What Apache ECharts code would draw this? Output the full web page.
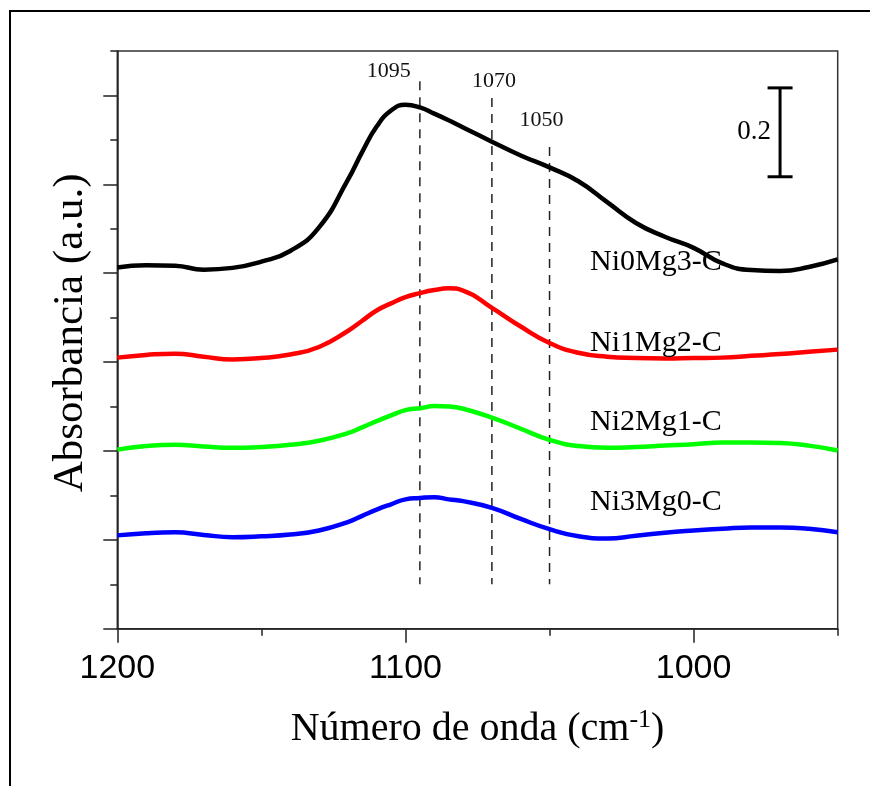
<!DOCTYPE html>
<html>
<head>
<meta charset="utf-8">
<script src="https://cdn.jsdelivr.net/npm/echarts@6/dist/echarts.min.js"></script>
<style>
  html, body { margin: 0; padding: 0; background: #ffffff; }
  #chart { width: 870px; height: 786px; }
</style>
</head>
<body>
<div id="chart"></div>
<script>
// FTIR spectra (absorbance, offset traces) of the calcined Ni/Mg samples
const wavenumbers = [1200, 1190, 1180, 1170, 1160, 1150, 1140, 1130, 1120, 1115, 1110, 1105, 1100, 1095, 1090,
                     1085, 1080, 1070, 1060, 1050, 1040, 1030, 1020, 1010, 1000, 990, 980, 970, 960, 950];

const ni0mg3 = [0.813, 0.818, 0.817, 0.808, 0.812, 0.826, 0.850, 0.903, 1.010, 1.073, 1.130, 1.166, 1.179, 1.173, 1.159,
                1.144, 1.128, 1.096, 1.065, 1.038, 1.007, 0.960, 0.913, 0.882, 0.857, 0.822, 0.807, 0.805, 0.814, 0.831];
const ni1mg2 = [0.610, 0.616, 0.619, 0.612, 0.606, 0.609, 0.617, 0.634, 0.670, 0.693, 0.716, 0.732, 0.746, 0.755, 0.762,
                0.766, 0.761, 0.722, 0.680, 0.643, 0.621, 0.612, 0.609, 0.608, 0.609, 0.610, 0.614, 0.618, 0.623, 0.628];
const ni2mg1 = [0.403, 0.411, 0.414, 0.410, 0.407, 0.409, 0.414, 0.423, 0.440, 0.453, 0.467, 0.480, 0.492, 0.496, 0.501,
                0.500, 0.495, 0.475, 0.450, 0.425, 0.411, 0.407, 0.409, 0.412, 0.415, 0.419, 0.419, 0.418, 0.412, 0.401];
const ni3mg0 = [0.210, 0.215, 0.217, 0.211, 0.206, 0.208, 0.212, 0.221, 0.240, 0.254, 0.268, 0.280, 0.291, 0.294, 0.296,
                0.291, 0.287, 0.272, 0.247, 0.224, 0.208, 0.203, 0.209, 0.216, 0.221, 0.225, 0.228, 0.228, 0.225, 0.217];

const seriesNames = ['Ni0Mg3-C', 'Ni1Mg2-C', 'Ni2Mg1-C', 'Ni3Mg0-C'];
const seriesValues = [ni0mg3, ni1mg2, ni2mg1, ni3mg0];
const seriesColors = ['#000000', '#ff0000', '#00ff00', '#0000ff'];

// Reference band positions (cm-1) and the height of each dashed guide
const peakPositions = [1095, 1070, 1050];
const peakLineTops = [1.232, 1.194, 1.084];
const peakLineBottom = 0.1;

// Absorbance scale bar: position and length
const scaleBarX = 970;
const scaleBarBase = 1.017;
const scaleBarLength = 0.2;

// Axis ticks
const xMajorTicks = [1000, 1100, 1200];
const yMajorTicks = [0, 0.2, 0.4, 0.6, 0.8, 1.0, 1.2];

// ---- styling ----
const SERIF = '"Liberation Serif", "Times New Roman", serif';
const SANS = '"Liberation Sans", Arial, sans-serif';
const AXIS_COLOR = '#222222';
const peakLabelOffsets = [[-31, -10], [2, -17], [-8, -27]];
const seriesLabelPos = [[590, 262], [590, 343], [590, 422], [590, 502]];

const chart = echarts.init(document.getElementById('chart'), null, { renderer: 'canvas' });

const lineSeries = seriesNames.map((name, k) => ({
  name: name,
  type: 'line',
  xAxisIndex: 0,
  yAxisIndex: 0,
  data: wavenumbers.map((w, i) => [w, seriesValues[k][i]]),
  showSymbol: false,
  symbol: 'none',
  smooth: 0.5,
  lineStyle: { color: seriesColors[k], width: 4.5 },
  z: 3
}));

const peakSeries = {
  type: 'custom',
  xAxisIndex: 0,
  yAxisIndex: 0,
  clip: false,
  z: 2,
  dimensions: ['x', 'bottom', 'top'],
  encode: { x: 0, y: [1, 2] },
  data: peakPositions.map((p, i) => [p, peakLineBottom, peakLineTops[i]]),
  renderItem: function (params, api) {
    const x = api.value(0);
    const b = api.coord([x, api.value(1)]);
    const t = api.coord([x, api.value(2)]);
    const off = peakLabelOffsets[params.dataIndex];
    return {
      type: 'group',
      children: [
        {
          type: 'line',
          shape: { x1: t[0], y1: t[1], x2: b[0], y2: b[1] },
          style: { stroke: '#222222', lineWidth: 1.5, lineDash: [9, 7] }
        },
        {
          type: 'text',
          x: t[0] + off[0],
          y: t[1] + off[1],
          style: {
            text: String(x),
            fill: '#111111',
            font: '22px ' + SERIF,
            align: 'center',
            verticalAlign: 'middle'
          }
        }
      ]
    };
  }
};

const scaleBarSeries = {
  type: 'custom',
  xAxisIndex: 0,
  yAxisIndex: 0,
  clip: false,
  z: 2,
  dimensions: ['x', 'base', 'length'],
  encode: { x: 0, y: 1 },
  data: [[scaleBarX, scaleBarBase, scaleBarLength]],
  renderItem: function (params, api) {
    const x = api.value(0);
    const base = api.value(1);
    const len = api.value(2);
    const p0 = api.coord([x, base]);
    const p1 = api.coord([x, base + len]);
    const cap = 12.5;
    const st = { stroke: '#000000', lineWidth: 3 };
    return {
      type: 'group',
      children: [
        { type: 'line', shape: { x1: p0[0], y1: p0[1], x2: p1[0], y2: p1[1] }, style: st },
        { type: 'line', shape: { x1: p0[0] - cap, y1: p0[1], x2: p0[0] + cap, y2: p0[1] }, style: st },
        { type: 'line', shape: { x1: p1[0] - cap, y1: p1[1], x2: p1[0] + cap, y2: p1[1] }, style: st },
        {
          type: 'text',
          x: p0[0] - 9,
          y: (p0[1] + p1[1]) / 2,
          style: {
            text: String(len),
            fill: '#000000',
            font: '27px ' + SERIF,
            align: 'right',
            verticalAlign: 'middle'
          }
        }
      ]
    };
  }
};

const tickLine = { color: AXIS_COLOR, width: 1.5 };

const option = {
  animation: false,
  backgroundColor: '#ffffff',
  grid: {
    left: 117.3,
    right: 32.3,
    top: 51,
    bottom: 157.3,
    show: true,
    borderColor: '#333333',
    borderWidth: 1.5,
    backgroundColor: 'transparent'
  },
  xAxis: [
    {
      type: 'value',
      min: 950,
      max: 1200,
      interval: 50,
      inverse: true,
      position: 'bottom',
      axisLine: { show: true, lineStyle: tickLine },
      axisTick: { show: true, length: 7, lineStyle: tickLine },
      axisLabel: { show: false },
      splitLine: { show: false },
      name: '{t|Número de onda (cm}{s|-1}{t|)}',
      nameLocation: 'middle',
      nameGap: 78,
      nameTextStyle: {
        rich: {
          t: { fontFamily: SERIF, fontSize: 40, color: '#000000', lineHeight: 46, verticalAlign: 'middle' },
          s: { fontFamily: SERIF, fontSize: 26, color: '#000000', lineHeight: 30, verticalAlign: 'top' }
        }
      }
    },
    {
      type: 'value',
      min: 950,
      max: 1200,
      inverse: true,
      position: 'bottom',
      axisLine: { show: false },
      axisTick: { show: true, length: 14, customValues: xMajorTicks, lineStyle: tickLine },
      axisLabel: {
        show: true,
        customValues: xMajorTicks,
        formatter: function (v) { return String(v); },
        fontFamily: SANS,
        fontSize: 34,
        color: '#000000',
        margin: 23
      },
      splitLine: { show: false }
    }
  ],
  yAxis: [
    {
      type: 'value',
      min: 0,
      max: 1.3,
      interval: 0.1,
      position: 'left',
      axisLine: { show: true, lineStyle: tickLine },
      axisTick: { show: true, length: 7, lineStyle: tickLine },
      axisLabel: { show: false },
      splitLine: { show: false },
      name: 'Absorbancia (a.u.)',
      nameLocation: 'middle',
      nameGap: 25,
      nameTextStyle: { fontFamily: SERIF, fontSize: 43, color: '#000000', padding: [0, 0, 0, 14] }
    },
    {
      type: 'value',
      min: 0,
      max: 1.3,
      position: 'left',
      axisLine: { show: false },
      axisTick: { show: true, length: 14, customValues: yMajorTicks, lineStyle: tickLine },
      axisLabel: { show: false },
      splitLine: { show: false }
    }
  ],
  graphic: [
    // page frame (top and left edges)
    { type: 'line', shape: { x1: 9, y1: 11, x2: 870, y2: 11 }, style: { stroke: '#000000', lineWidth: 2 }, z: 10 },
    { type: 'line', shape: { x1: 10, y1: 10, x2: 10, y2: 786 }, style: { stroke: '#000000', lineWidth: 2 }, z: 10 }
  ].concat(seriesNames.map((name, k) => ({
    type: 'text',
    x: seriesLabelPos[k][0],
    y: seriesLabelPos[k][1],
    z: 10,
    style: {
      text: name,
      fill: '#000000',
      font: '30px ' + SERIF,
      align: 'left',
      verticalAlign: 'middle'
    }
  }))),
  series: lineSeries.concat([peakSeries, scaleBarSeries])
};

chart.setOption(option);
</script>
</body>
</html>
